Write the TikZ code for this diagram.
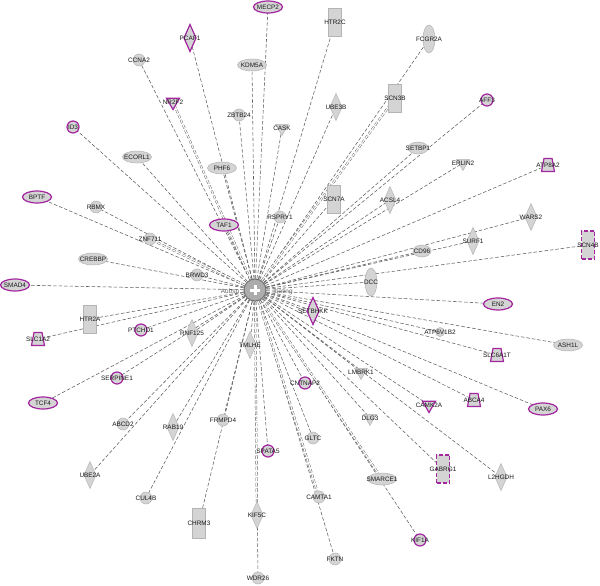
\documentclass[tikz,border=0pt]{standalone}
\usepackage{fontspec}
\setmainfont{Liberation Sans}
\usetikzlibrary{shapes.geometric,backgrounds}
\definecolor{gfill}{HTML}{D4D4D4}
\definecolor{gline}{HTML}{B4B4B4}
\definecolor{mag}{HTML}{A3279F}
\definecolor{edgec}{HTML}{5E5E5E}
\tikzset{
  base/.style={fill=gfill,draw=gline,line width=0.5pt,inner sep=0pt,outer sep=0pt},
  ellip/.style={base,ellipse,minimum width=29pt,minimum height=12pt},
  vellip/.style={base,ellipse,minimum width=12pt,minimum height=28pt},
  circ/.style={base,circle,minimum size=12pt},
  dia/.style={base,diamond,minimum width=12pt,minimum height=27pt},
  tri/.style={base,regular polygon,regular polygon sides=3,shape border rotate=180,minimum size=15pt},
  rectv/.style={base,rectangle,minimum width=13pt,minimum height=28pt},
  trapbox/.style={rectangle,inner sep=0pt,outer sep=0pt,minimum width=13pt,minimum height=13pt},
  mag/.style={draw=mag,line width=1.2pt},
  magd/.style={draw=mag,line width=1.2pt,dash pattern=on 4pt off 2pt},
  lbl/.style={font=\fontsize{6.4}{7}\selectfont,inner sep=0pt,text=black!90},
  edge/.style={draw=edgec,line width=0.55pt,dash pattern=on 3.5pt off 2pt},
  dedge/.style={edge,double=white,double distance=1.2pt,line width=0.45pt},
}
\newcommand\gn[5]{\node[#2] (#1) at (#3,#4) {}; \node[lbl] (#1-l) at (#1) {#5};}
\newcommand\gtrap[4]{\node[trapbox] (#1) at (#2,#3) {};
  \draw[fill=gfill,mag] (#1.south west) -- (#1.south east) -- ([xshift=-2.5pt]#1.north east) -- ([xshift=2.5pt]#1.north west) -- cycle;
  \node[lbl] (#1-l) at (#1) {#4};}
\begin{document}
\begin{tikzpicture}[x=1pt,y=-1pt]
\useasboundingbox (0,0) rectangle (600,586);
% hub
\node[circle,fill=gray!65,draw=gray!90!black,line width=1pt,minimum size=22pt,inner sep=0pt] (hub) at (255,290) {};
\fill[white] ([xshift=-1.5pt,yshift=-5pt]hub.center) rectangle ([xshift=1.5pt,yshift=5pt]hub.center);
\fill[white] ([xshift=-5pt,yshift=-1.5pt]hub.center) rectangle ([xshift=5pt,yshift=1.5pt]hub.center);
\node[lbl,text=black!60] (hubl) at (230,292) {Aubsp};
\node[lbl,text=black!60] (hubr) at (283,292) {Ibating};
% nodes
\gn{mecp2}{ellip,mag}{268}{7}{MECP2}
\gn{pcaf1}{dia,mag}{190}{38}{PCAF1}
\gn{htr2c}{rectv}{335}{22}{HTR2C}
\gn{fcgr2a}{vellip}{429}{39}{FCGR2A}
\gn{ccna2}{circ}{139}{60}{CCNA2}
\gn{kdm5a}{ellip}{252}{65}{KDM5A}
\gn{nr2f2}{tri,mag}{173}{102}{NR2F2}
\gn{zbtb24}{circ}{239}{115}{ZBTB24}
\gn{ube3b}{dia}{336}{107}{UBE3B}
\gn{scn3b}{rectv}{395}{98}{SCN3B}
\gn{cask}{tri}{282}{128}{CASK}
\gn{aff}{circ,mag}{487}{100}{AFF3}
\gn{id}{circ,mag}{73}{127}{ID3}
\gn{ecorl1}{ellip}{137}{157}{ECORL1}
\gn{phf6}{ellip}{222}{168}{PHF6}
\gn{setbp1}{ellip,minimum width=20pt}{418}{148}{SETBP1}
\gn{erlin2}{tri}{463}{163}{ERLIN2}
\gtrap{atp8a2}{548}{165}{ATP8A2}
\gn{scn7a}{rectv}{334}{199}{SCN7A}
\gn{acsl4}{dia}{390}{200}{ACSL4}
\gn{rspry1}{circ}{280}{217}{RSPRY1}
\gn{taf1}{ellip,mag}{224}{225}{TAF1}
\gn{bptf}{ellip,mag}{37}{197}{BPTF}
\gn{rbmx}{circ}{96}{207}{RBMX}
\gn{znf711}{circ}{150}{239}{ZNF711}
\gn{wars2}{dia}{531}{217}{WARS2}
\gn{surf1}{dia}{473}{241}{SURF1}
\gn{crebbp}{ellip}{93}{259}{CREBBP}
\gn{scn4b}{rectv,magd}{588}{245}{SCN4B}
\gn{brwd3}{circ}{197}{275}{BRWD3}
\gn{cd96}{ellip,minimum width=18pt}{422}{251}{CD96}
\gn{dcc}{vellip}{371}{282}{DCC}
\gn{smad4}{ellip,mag}{15}{285}{SMAD4}
\gn{htr2a}{rectv}{90}{319}{HTR2A}
\gn{en2}{ellip,mag}{498}{304}{EN2}
\gtrap{slc1a2}{38}{339}{SLC1A2}
\gn{ptchd1}{circ,mag}{141}{330}{PTCHD1}
\gn{rnf125}{dia}{192}{333}{RNF125}
\gn{setbhk}{dia,mag}{313}{311}{SETBHKK}
\gn{atp6v1b2}{circ,minimum size=9pt}{440}{332}{ATP6V1B2}
\gn{ash1l}{ellip}{568}{345}{ASH1L}
\gtrap{slc6a1}{497}{355}{SLC6A1T}
\gn{tmlhe}{dia}{250}{345}{TMLHE}
\gn{serpine1}{circ,mag}{117}{378}{SERPINE1}
\gn{lmbrk1}{tri}{361}{372}{LMBRK1}
\gn{cntnap2}{circ,mag}{305}{383}{CNTNAP2}
\gn{tcf4}{ellip,mag}{43}{403}{TCF4}
\gn{abcd2}{circ}{123}{424}{ABCD2}
\gn{rab19}{dia}{173}{427}{RAB19}
\gn{frmpd4}{circ}{223}{420}{FRMPD4}
\gn{dlg3}{tri}{370}{418}{DLG3}
\gn{camk2a}{tri,mag}{429}{405}{CAMK2A}
\gtrap{abca4}{474}{400}{ABCA4}
\gn{pax6}{ellip,mag}{543}{409}{PAX6}
\gn{gltc}{circ}{313}{438}{GLTC}
\gn{spata5}{circ,mag}{268}{451}{SPATA5}
\gn{ube2a}{dia}{90}{475}{UBE2A}
\gn{smarce1}{ellip}{382}{479}{SMARCE1}
\gn{gabrg1}{rectv,magd}{443}{469}{GABRG1}
\gn{l2hgdh}{dia}{501}{477}{L2HGDH}
\gn{cul4b}{circ}{146}{498}{CUL4B}
\gn{kif5c}{dia}{257}{515}{KIF5C}
\gn{camta1}{circ}{319}{497}{CAMTA1}
\gn{chrm3}{rectv,minimum height=30pt}{199}{523}{CHRM3}
\gn{kif1a}{circ,mag}{420}{540}{KIF1A}
\gn{fktn}{circ}{335}{559}{FKTN}
\gn{wdr26}{circ}{258}{578}{WDR26}
\begin{scope}[on background layer]
\fill[white] (0,0) rectangle (600,586);
\foreach \n in {mecp2,pcaf1,htr2c,fcgr2a,ccna2,kdm5a,zbtb24,ube3b,cask,aff,id,ecorl1,phf6,setbp1,erlin2,atp8a2,scn7a,acsl4,rspry1,taf1,bptf,rbmx,wars2,surf1,crebbp,scn4b,brwd3,cd96,dcc,smad4,htr2a,en2,slc1a2,ptchd1,rnf125,setbhk,atp6v1b2,ash1l,slc6a1,tmlhe,serpine1,lmbrk1,cntnap2,tcf4,abcd2,rab19,frmpd4,dlg3,camk2a,abca4,pax6,gltc,spata5,ube2a,gabrg1,l2hgdh,cul4b,chrm3,kif1a,fktn,wdr26}
  \draw[edge] (hub) -- (\n);
\foreach \n in {nr2f2,scn3b,znf711,smarce1,camta1,kif5c}
  \draw[dedge] (hub) -- (\n);
\end{scope}
\end{tikzpicture}
\end{document}
